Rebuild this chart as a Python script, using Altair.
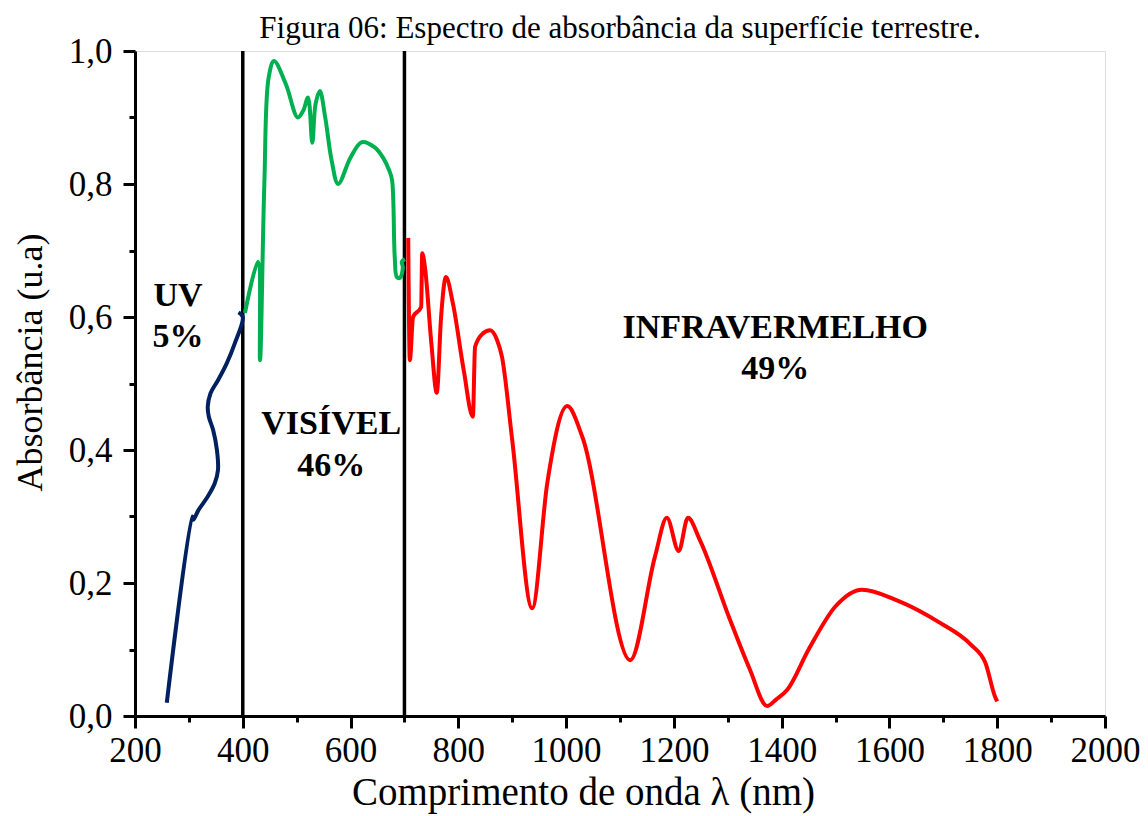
import altair as alt
import pandas as pd

# UV segment (wavelength nm, absorbance)
uv_nm = [259, 306, 308, 318, 335, 348, 354, 352, 345, 337, 335, 340, 354, 370, 385, 400, 392]
uv_ab = [0.02, 0.30, 0.295, 0.31, 0.33, 0.35, 0.37, 0.40, 0.43, 0.45, 0.465, 0.485, 0.505, 0.53, 0.56, 0.60, 0.607]

# Visible segment
vis_nm = [404, 428, 432, 440, 448, 458, 480, 502, 512, 521, 529, 535, 543, 553, 565, 577, 600, 621, 645, 660, 672, 677, 682, 686, 692, 697, 695, 701]
vis_ab = [0.606, 0.683, 0.535, 0.80, 0.96, 0.985, 0.95, 0.90, 0.91, 0.93, 0.862, 0.92, 0.94, 0.90, 0.835, 0.80, 0.84, 0.863, 0.855, 0.84, 0.82, 0.806, 0.69, 0.66, 0.659, 0.675, 0.683, 0.687]

# Infrared segment
ir_nm = [707, 710, 716, 731, 733, 738, 750, 760, 768, 777, 790, 810, 827, 831, 845, 859, 872, 881, 900, 937, 965, 1002, 1030, 1119, 1165, 1187, 1209, 1226, 1248, 1304, 1341, 1373, 1390, 1410, 1450, 1500, 1549, 1614, 1694, 1750, 1778, 1796, 1800]
ir_ab = [0.719, 0.535, 0.60, 0.615, 0.696, 0.675, 0.56, 0.486, 0.60, 0.66, 0.62, 0.52, 0.45, 0.555, 0.575, 0.58, 0.565, 0.54, 0.415, 0.162, 0.35, 0.466, 0.42, 0.084, 0.24, 0.298, 0.248, 0.298, 0.265, 0.145, 0.07, 0.015, 0.025, 0.039, 0.10, 0.165, 0.19, 0.174, 0.14, 0.108, 0.08, 0.029, 0.022]

region_lines = [400, 700]

labels_text = ["UV", "5%", "VISÍVEL", "46%", "INFRAVERMELHO", "49%"]
labels_nm = [280, 280, 564, 564, 1388, 1388]
labels_ab = [0.632, 0.57, 0.439, 0.376, 0.583, 0.522]

rows = []
for seg, xs, ys in [("UV", uv_nm, uv_ab), ("VIS", vis_nm, vis_ab)]:
    for i, (x, y) in enumerate(zip(xs, ys)):
        rows.append({"seg": seg, "i": i, "nm": x, "ab": y})
df = pd.DataFrame(rows)
irdf = pd.DataFrame({"seg": "IR", "i": range(len(ir_nm)), "nm": ir_nm, "ab": ir_ab})
vdf = pd.DataFrame({"nm": region_lines, "y0": [0.0, 0.0], "y1": [1.0, 1.0]})
tdf = pd.DataFrame({"t": labels_text, "nm": labels_nm, "ab": labels_ab})

FONT = "Liberation Serif"

xscale = alt.Scale(domain=[200, 2000], nice=False, zero=False)
yscale = alt.Scale(domain=[0, 1], nice=False)
cscale = alt.Scale(domain=["UV", "VIS", "IR"], range=["#002060", "#00B050", "#FF0000"])

xaxis = alt.Axis(
    values=list(range(200, 2001, 100)),
    labelExpr="datum.value % 200 == 0 ? datum.value : ''",
    tickSize={"condition": {"test": "datum.value % 200 == 0", "value": 12}, "value": 6},
    tickWidth=3, tickColor="black", domainWidth=3, domainColor="black",
    labelFont=FONT, labelFontSize=35, labelColor="black", labelPadding=5,
    labelFlush=False, labelOverlap=False, grid=False,
    title="Comprimento de onda λ (nm)", titleFont=FONT, titleFontSize=39,
    titleFontWeight="normal", titleColor="black",
    titleX=448, titleY=88, titleBaseline="alphabetic", titleAnchor="middle", titleAlign="center",
)
yaxis = alt.Axis(
    values=[round(v * 0.1, 1) for v in range(0, 11)],
    labelExpr="round(datum.value*10) % 2 == 0 ? replace(format(datum.value, '.1f'), '.', ',') : ''",
    tickSize={"condition": {"test": "round(datum.value*10) % 2 == 0", "value": 12}, "value": 6},
    tickWidth=3, tickColor="black", domainWidth=3, domainColor="black",
    labelFont=FONT, labelFontSize=35, labelColor="black", labelPadding=11,
    labelFlush=False, labelOverlap=False, grid=False,
    title="Absorbância (u.a)", titleFont=FONT, titleFontSize=36,
    titleFontWeight="normal", titleColor="black",
    titleX=-94, titleY=311, titleBaseline="alphabetic", titleAngle=-90, titleAlign="center",
)

lines = alt.Chart(df).mark_line(strokeWidth=4, interpolate="catmull-rom").encode(
    x=alt.X("nm:Q", scale=xscale, axis=xaxis),
    y=alt.Y("ab:Q", scale=yscale, axis=yaxis),
    color=alt.Color("seg:N", scale=cscale, legend=None),
    order="i:Q",
    detail="seg:N",
)

ir_line = alt.Chart(irdf).mark_line(strokeWidth=4, interpolate="monotone").encode(
    x=alt.X("nm:Q", scale=xscale),
    y=alt.Y("ab:Q", scale=yscale),
    color=alt.Color("seg:N", scale=cscale, legend=None),
    order="i:Q",
)

rules = alt.Chart(vdf).mark_rule(color="black", strokeWidth=3.5).encode(
    x=alt.X("nm:Q", scale=xscale),
    y=alt.Y("y0:Q", scale=yscale),
    y2="y1:Q",
)

texts = alt.Chart(tdf).mark_text(font=FONT, fontSize=34, fontWeight="bold", color="black",
                                 align="center", baseline="middle").encode(
    x=alt.X("nm:Q", scale=xscale),
    y=alt.Y("ab:Q", scale=yscale),
    text="t:N",
)

chart = alt.layer(rules, lines, ir_line, texts).properties(
    width=970, height=665,
    title=alt.TitleParams("Figura 06: Espectro de absorbância da superfície terrestre.",
                          font=FONT, fontSize=31, fontWeight="normal", color="black",
                          anchor="middle", offset=12, dy=23),
    autosize=alt.AutoSizeParams(type="none"),
    padding={"left": 127, "top": 43, "right": 35, "bottom": 100},
).configure_view(stroke="black", strokeWidth=3).configure(background="white")

chart.save("out.html", embed_options={"renderer": "svg", "actions": False})
